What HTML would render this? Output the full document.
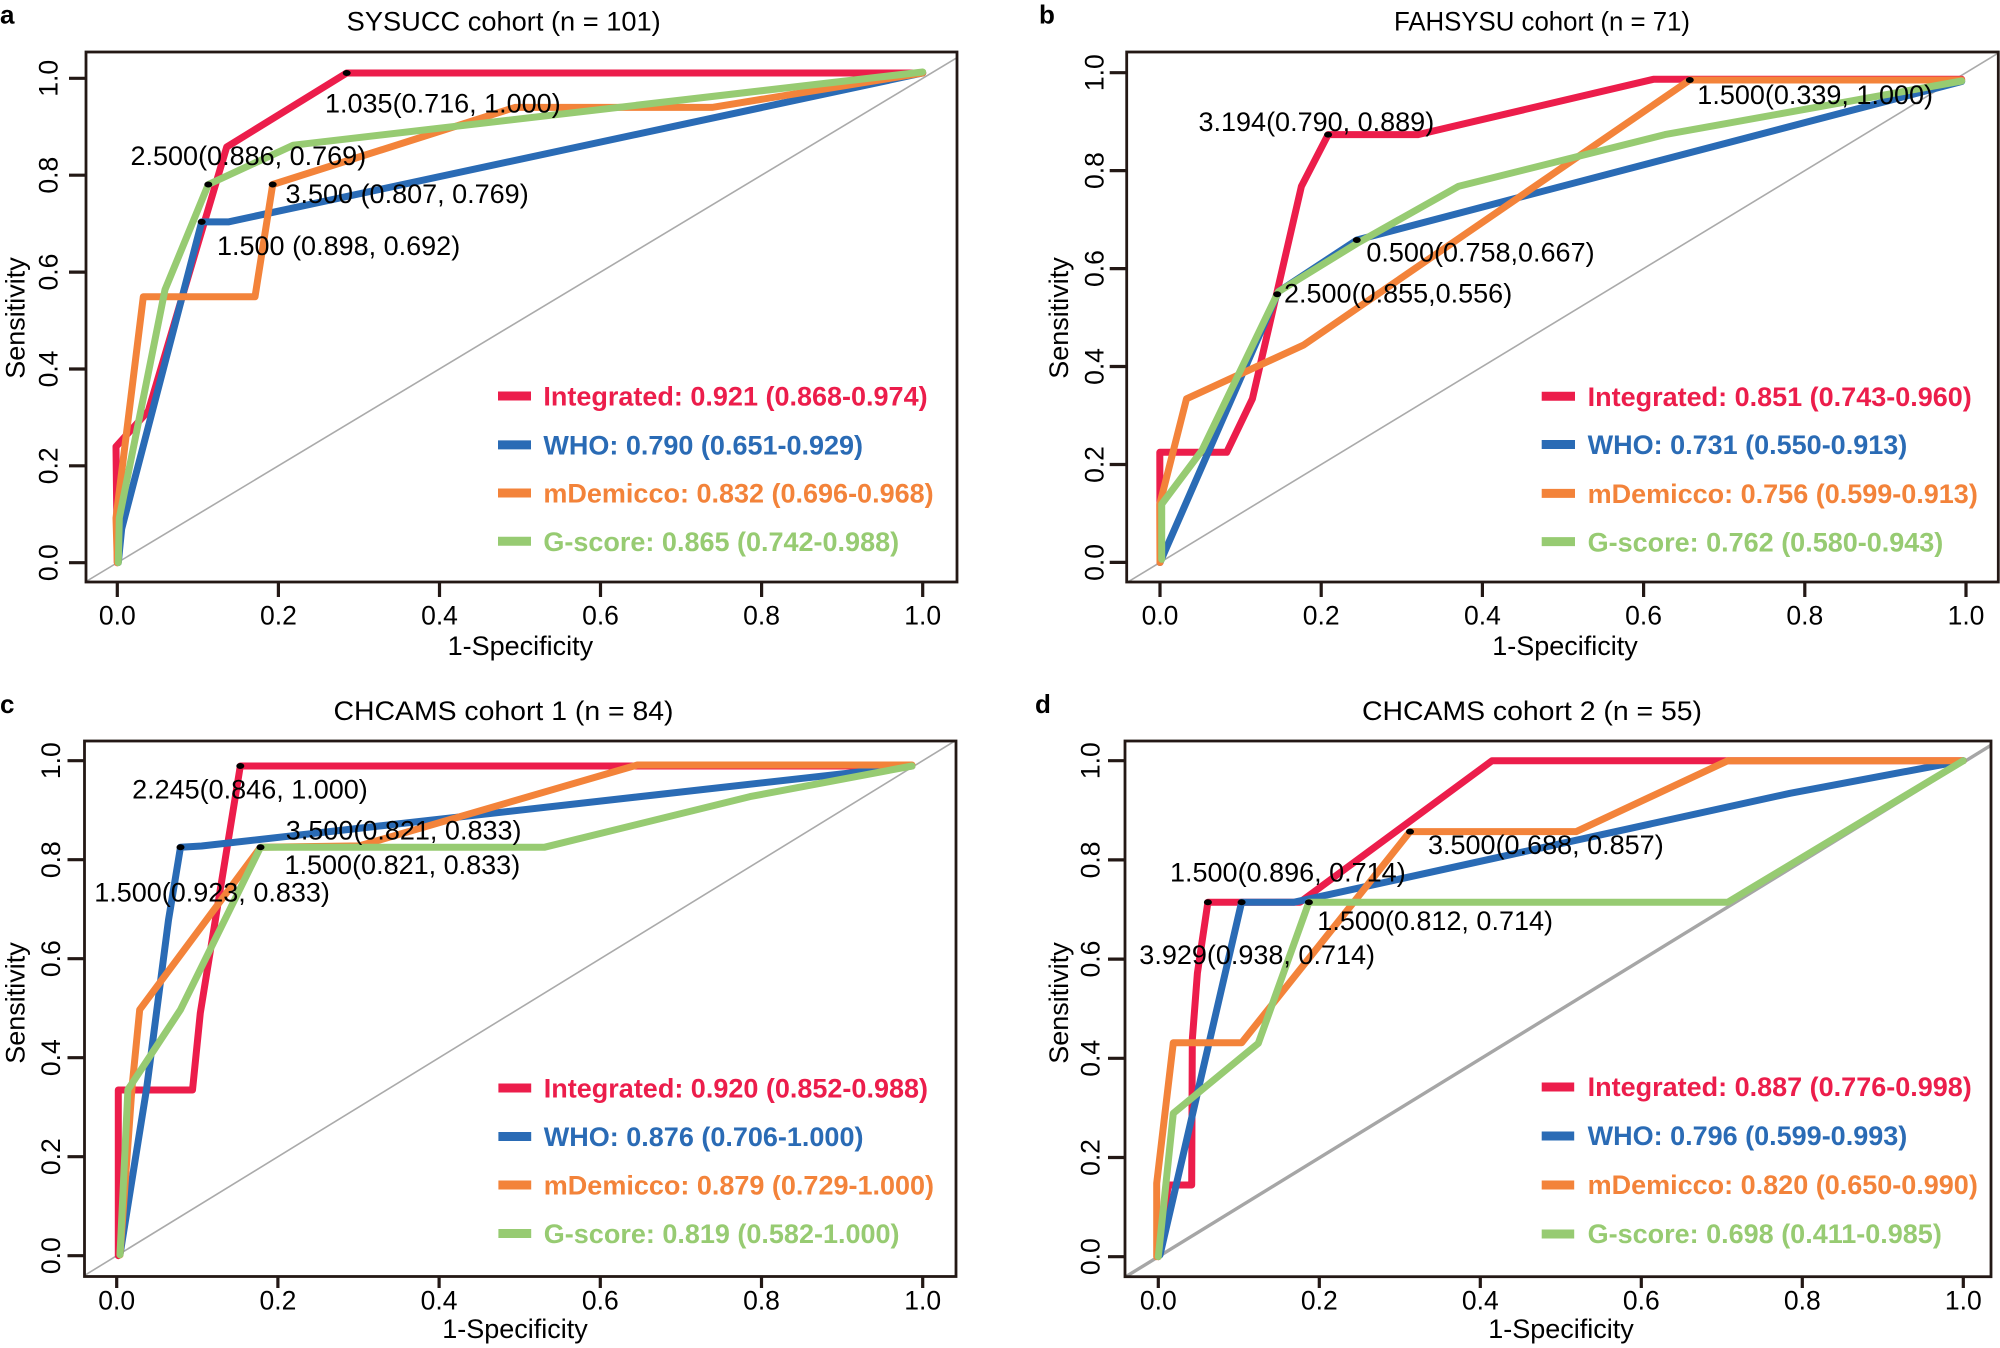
<!DOCTYPE html>
<html><head><meta charset="utf-8"><style>
html,body{margin:0;padding:0;background:#fff;}
svg{display:block;}
text{font-family:"Liberation Sans",Arial,sans-serif;fill:#000;}
.t{font-size:27px;}
.tk{font-size:26.5px;}
.lg{font-size:27px;font-weight:bold;}
.pl{font-size:26px;font-weight:bold;}
.c{fill:none;stroke-width:7;stroke-linejoin:round;stroke-linecap:round;}
.r{stroke:#EC1D4B;} .b{stroke:#2A6BB5;} .o{stroke:#F3833A;} .g{stroke:#97CB72;}
.box{fill:none;stroke:#231815;stroke-width:2.8;}
.tick{stroke:#231815;stroke-width:3.2;}
.lgl{stroke-width:9;}
</style></head><body>
<svg width="2000" height="1348" viewBox="0 0 2000 1348" xmlns="http://www.w3.org/2000/svg">
<rect width="2000" height="1348" fill="#fff"/>
<defs>
<clipPath id="ca"><rect x="86" y="52" width="871" height="530"/></clipPath>
<clipPath id="cb"><rect x="1126.7" y="52" width="871.6" height="530"/></clipPath>
<clipPath id="cc"><rect x="84.5" y="741" width="871.5" height="535.5"/></clipPath>
<clipPath id="cd"><rect x="1125" y="741" width="866" height="535.7"/></clipPath>
</defs>

<!-- ================= PANEL A ================= -->
<text class="pl" x="0" y="23.5">a</text>
<text class="t" x="346.7" y="30.7" textLength="314" lengthAdjust="spacingAndGlyphs">SYSUCC cohort (n = 101)</text>
<g clip-path="url(#ca)">
<line x1="36.8" y1="611.1" x2="1003.2" y2="29.9" stroke="#aaaaaa" stroke-width="1.6"/>
<polyline class="c r" points="117.3,562.7 116,446.6 148.3,411 226.7,147 346.7,73 922.7,73"/>
<polyline class="c b" points="118.3,562.6 121.7,528.7 201.7,221.9 228.3,221.9 922.7,73"/>
<polyline class="c o" points="117.3,562.7 116,518 143.3,296.8 255,296.8 272.7,184.5 515,107.4 712,107.4 922.7,73"/>
<polyline class="c g" points="118.3,562.6 119.3,518 165,289.7 208.3,184.5 293.3,145.2 922.7,72"/>
</g>
<ellipse cx="346.7" cy="73" rx="4" ry="3"/>
<ellipse cx="208.3" cy="184.5" rx="4" ry="3"/>
<ellipse cx="272.7" cy="184.5" rx="4" ry="3"/>
<ellipse cx="201.7" cy="221.9" rx="4" ry="3"/>
<text class="t" x="325" y="112.5">1.035(0.716, 1.000)</text>
<text class="t" x="130.5" y="165">2.500(0.886, 0.769)</text>
<text class="t" x="285.5" y="203">3.500 (0.807, 0.769)</text>
<text class="t" x="217" y="255">1.500 (0.898, 0.692)</text>
<line class="lgl r" x1="498" y1="396" x2="531" y2="396"/>
<line class="lgl b" x1="498" y1="444.9" x2="531" y2="444.9"/>
<line class="lgl o" x1="498" y1="493" x2="531" y2="493"/>
<line class="lgl g" x1="498" y1="541.2" x2="531" y2="541.2"/>
<text class="lg" x="543.4" y="405.7" style="fill:#EC1D4B">Integrated: 0.921 (0.868-0.974)</text>
<text class="lg" x="543.4" y="454.6" style="fill:#2A6BB5">WHO: 0.790 (0.651-0.929)</text>
<text class="lg" x="543.4" y="502.7" style="fill:#F3833A">mDemicco: 0.832 (0.696-0.968)</text>
<text class="lg" x="543.4" y="551" style="fill:#97CB72">G-score: 0.865 (0.742-0.988)</text>
<rect class="box" x="86" y="52" width="871" height="530"/>
<g class="tick">
<line x1="117.3" y1="582" x2="117.3" y2="597"/><line x1="278.4" y1="582" x2="278.4" y2="597"/><line x1="439.5" y1="582" x2="439.5" y2="597"/><line x1="600.5" y1="582" x2="600.5" y2="597"/><line x1="761.6" y1="582" x2="761.6" y2="597"/><line x1="922.7" y1="582" x2="922.7" y2="597"/>
<line x1="69" y1="562.7" x2="86" y2="562.7"/><line x1="69" y1="465.8" x2="86" y2="465.8"/><line x1="69" y1="369" x2="86" y2="369"/><line x1="69" y1="272.1" x2="86" y2="272.1"/><line x1="69" y1="175.2" x2="86" y2="175.2"/><line x1="69" y1="78.3" x2="86" y2="78.3"/>
</g>
<g class="tk" text-anchor="middle">
<text x="117.3" y="624.5">0.0</text><text x="278.4" y="624.5">0.2</text><text x="439.5" y="624.5">0.4</text><text x="600.5" y="624.5">0.6</text><text x="761.6" y="624.5">0.8</text><text x="922.7" y="624.5">1.0</text>
<text transform="translate(57.5,562.7) rotate(-90)">0.0</text><text transform="translate(57.5,465.8) rotate(-90)">0.2</text><text transform="translate(57.5,369) rotate(-90)">0.4</text><text transform="translate(57.5,272.1) rotate(-90)">0.6</text><text transform="translate(57.5,175.2) rotate(-90)">0.8</text><text transform="translate(57.5,78.3) rotate(-90)">1.0</text>
</g>
<text class="t" text-anchor="middle" x="520.4" y="655">1-Specificity</text>
<text class="t" text-anchor="middle" transform="translate(24.5,318) rotate(-90)">Sensitivity</text>

<!-- ================= PANEL B ================= -->
<text class="pl" x="1039" y="23.5">b</text>
<text class="t" x="1394" y="30.7" textLength="296" lengthAdjust="spacingAndGlyphs">FAHSYSU cohort (n = 71)</text>
<g clip-path="url(#cb)">
<line x1="1079.4" y1="611.4" x2="2046.6" y2="23.7" stroke="#aaaaaa" stroke-width="1.6"/>
<polyline class="c r" points="1160,562.5 1159.8,452.3 1226.7,452.3 1252.4,398.8 1301.4,186.4 1328.1,134.6 1418.1,134.6 1653.4,79.3 1961.7,79.3"/>
<polyline class="c b" points="1160,562.5 1278.4,291.7 1356.8,240 1961.7,81.5"/>
<polyline class="c o" points="1160,562.5 1159.8,504.1 1186.5,398.8 1303.3,345.2 1689.8,80 1961.7,80"/>
<polyline class="c g" points="1161.7,559.4 1161.7,504.1 1201.8,450.6 1278.4,291.7 1356.8,243.5 1458.3,186.4 1664.9,134.6 1961.7,81"/>
</g>
<ellipse cx="1328.1" cy="134.6" rx="4" ry="3"/>
<ellipse cx="1689.8" cy="80" rx="4" ry="3"/>
<ellipse cx="1356.8" cy="240" rx="4" ry="3"/>
<ellipse cx="1277.2" cy="294.2" rx="4" ry="3"/>
<text class="t" x="1198.5" y="131">3.194(0.790, 0.889)</text>
<text class="t" x="1697.3" y="104">1.500(0.339, 1.000)</text>
<text class="t" x="1366.4" y="261.3">0.500(0.758,0.667)</text>
<text class="t" x="1284" y="302.4">2.500(0.855,0.556)</text>
<line class="lgl r" x1="1541.7" y1="396.3" x2="1575" y2="396.3"/>
<line class="lgl b" x1="1541.7" y1="444.5" x2="1575" y2="444.5"/>
<line class="lgl o" x1="1541.7" y1="493.4" x2="1575" y2="493.4"/>
<line class="lgl g" x1="1541.7" y1="541.6" x2="1575" y2="541.6"/>
<text class="lg" x="1587.6" y="406" style="fill:#EC1D4B">Integrated: 0.851 (0.743-0.960)</text>
<text class="lg" x="1587.6" y="454.2" style="fill:#2A6BB5">WHO: 0.731 (0.550-0.913)</text>
<text class="lg" x="1587.6" y="503.1" style="fill:#F3833A">mDemicco: 0.756 (0.599-0.913)</text>
<text class="lg" x="1587.6" y="551.3" style="fill:#97CB72">G-score: 0.762 (0.580-0.943)</text>
<rect class="box" x="1126.7" y="52" width="871.6" height="530"/>
<g class="tick">
<line x1="1160" y1="582" x2="1160" y2="597"/><line x1="1321.2" y1="582" x2="1321.2" y2="597"/><line x1="1482.4" y1="582" x2="1482.4" y2="597"/><line x1="1643.6" y1="582" x2="1643.6" y2="597"/><line x1="1804.8" y1="582" x2="1804.8" y2="597"/><line x1="1966" y1="582" x2="1966" y2="597"/>
<line x1="1109.7" y1="562.4" x2="1126.7" y2="562.4"/><line x1="1109.7" y1="464.5" x2="1126.7" y2="464.5"/><line x1="1109.7" y1="366.5" x2="1126.7" y2="366.5"/><line x1="1109.7" y1="268.6" x2="1126.7" y2="268.6"/><line x1="1109.7" y1="170.6" x2="1126.7" y2="170.6"/><line x1="1109.7" y1="72.7" x2="1126.7" y2="72.7"/>
</g>
<g class="tk" text-anchor="middle">
<text x="1160" y="624.5">0.0</text><text x="1321.2" y="624.5">0.2</text><text x="1482.4" y="624.5">0.4</text><text x="1643.6" y="624.5">0.6</text><text x="1804.8" y="624.5">0.8</text><text x="1966" y="624.5">1.0</text>
<text transform="translate(1103.5,562.4) rotate(-90)">0.0</text><text transform="translate(1103.5,464.5) rotate(-90)">0.2</text><text transform="translate(1103.5,366.5) rotate(-90)">0.4</text><text transform="translate(1103.5,268.6) rotate(-90)">0.6</text><text transform="translate(1103.5,170.6) rotate(-90)">0.8</text><text transform="translate(1103.5,72.7) rotate(-90)">1.0</text>
</g>
<text class="t" text-anchor="middle" x="1565" y="655">1-Specificity</text>
<text class="t" text-anchor="middle" transform="translate(1068,318) rotate(-90)">Sensitivity</text>

<!-- ================= PANEL C ================= -->
<text class="pl" x="0" y="713">c</text>
<text class="t" x="333.5" y="720" textLength="340" lengthAdjust="spacingAndGlyphs">CHCAMS cohort 1 (n = 84)</text>
<g clip-path="url(#cc)">
<line x1="36.1" y1="1305.2" x2="1003.3" y2="711.2" stroke="#aaaaaa" stroke-width="1.6"/>
<polyline class="c r" points="118.3,1255.7 118.3,1090 192.5,1090 200.3,1013 240.3,766 912,766"/>
<polyline class="c b" points="120,1254.7 146.7,1088 168.5,920 180.5,847.2 201.6,846 912,766"/>
<polyline class="c o" points="120,1255 132.1,1086.3 139.7,1009.7 260.5,847.2 359.4,845.9 637.3,765 912,765"/>
<polyline class="c g" points="120,1254.7 127.9,1089.7 180.5,1009.7 260.5,847.2 544.7,847.2 750,796.6 912,766"/>
</g>
<ellipse cx="240.3" cy="766" rx="4" ry="3"/>
<ellipse cx="180.5" cy="847.2" rx="4" ry="3"/>
<ellipse cx="260.5" cy="847.2" rx="4" ry="3"/>
<text class="t" x="132.1" y="798.3">2.245(0.846, 1.000)</text>
<text class="t" x="285.8" y="839.3">3.500(0.821, 0.833)</text>
<text class="t" x="284.5" y="873.9">1.500(0.821, 0.833)</text>
<text class="t" x="94.2" y="901.5">1.500(0.923, 0.833)</text>
<line class="lgl r" x1="498.4" y1="1088" x2="531.2" y2="1088"/>
<line class="lgl b" x1="498.4" y1="1136.5" x2="531.2" y2="1136.5"/>
<line class="lgl o" x1="498.4" y1="1185" x2="531.2" y2="1185"/>
<line class="lgl g" x1="498.4" y1="1233.5" x2="531.2" y2="1233.5"/>
<text class="lg" x="543.8" y="1097.7" style="fill:#EC1D4B">Integrated: 0.920 (0.852-0.988)</text>
<text class="lg" x="543.8" y="1146.2" style="fill:#2A6BB5">WHO: 0.876 (0.706-1.000)</text>
<text class="lg" x="543.8" y="1194.7" style="fill:#F3833A">mDemicco: 0.879 (0.729-1.000)</text>
<text class="lg" x="543.8" y="1243.2" style="fill:#97CB72">G-score: 0.819 (0.582-1.000)</text>
<rect class="box" x="84.5" y="741" width="871.5" height="535.5"/>
<g class="tick">
<line x1="116.7" y1="1276.5" x2="116.7" y2="1288"/><line x1="277.9" y1="1276.5" x2="277.9" y2="1288"/><line x1="439.1" y1="1276.5" x2="439.1" y2="1288"/><line x1="600.3" y1="1276.5" x2="600.3" y2="1288"/><line x1="761.5" y1="1276.5" x2="761.5" y2="1288"/><line x1="922.7" y1="1276.5" x2="922.7" y2="1288"/>
<line x1="67.5" y1="1255.7" x2="84.5" y2="1255.7"/><line x1="67.5" y1="1156.7" x2="84.5" y2="1156.7"/><line x1="67.5" y1="1057.7" x2="84.5" y2="1057.7"/><line x1="67.5" y1="958.7" x2="84.5" y2="958.7"/><line x1="67.5" y1="859.7" x2="84.5" y2="859.7"/><line x1="67.5" y1="760.7" x2="84.5" y2="760.7"/>
</g>
<g class="tk" text-anchor="middle">
<text x="116.7" y="1309.5">0.0</text><text x="277.9" y="1309.5">0.2</text><text x="439.1" y="1309.5">0.4</text><text x="600.3" y="1309.5">0.6</text><text x="761.5" y="1309.5">0.8</text><text x="922.7" y="1309.5">1.0</text>
<text transform="translate(60,1255.7) rotate(-90)">0.0</text><text transform="translate(60,1156.7) rotate(-90)">0.2</text><text transform="translate(60,1057.7) rotate(-90)">0.4</text><text transform="translate(60,958.7) rotate(-90)">0.6</text><text transform="translate(60,859.7) rotate(-90)">0.8</text><text transform="translate(60,760.7) rotate(-90)">1.0</text>
</g>
<text class="t" text-anchor="middle" x="515" y="1338">1-Specificity</text>
<text class="t" text-anchor="middle" transform="translate(24.5,1003) rotate(-90)">Sensitivity</text>

<!-- ================= PANEL D ================= -->
<text class="pl" x="1035" y="713">d</text>
<text class="t" x="1362" y="720" textLength="340" lengthAdjust="spacingAndGlyphs">CHCAMS cohort 2 (n = 55)</text>
<g clip-path="url(#cd)">
<line x1="1077.7" y1="1306.2" x2="2044.9" y2="712.2" stroke="#a6a6a6" stroke-width="3.4"/>
<polyline class="c r" points="1158.3,1256.7 1168.3,1185 1191.7,1185 1192.3,1039.7 1197.4,973.1 1207.9,902.2 1300,902.2 1492.1,760.7 1963.3,760.7"/>
<polyline class="c b" points="1160,1255 1241.6,902.2 1294.2,902.2 1790,793.3 1963.3,760.7"/>
<polyline class="c o" points="1156.7,1256.7 1156.7,1183.3 1173.3,1042.7 1241.7,1042.7 1410,831.6 1576.3,831.6 1727.8,760.7 1963.3,760.7"/>
<polyline class="c g" points="1158.3,1256.7 1173.3,1113.3 1258.3,1043.3 1308.9,902.2 1727.8,902.2 1963.3,760.7"/>
</g>
<ellipse cx="1207.9" cy="902.2" rx="4" ry="3"/>
<ellipse cx="1241.6" cy="902.2" rx="4" ry="3"/>
<ellipse cx="1308.9" cy="902.2" rx="4" ry="3"/>
<ellipse cx="1410" cy="831.6" rx="4" ry="3"/>
<text class="t" x="1428" y="854.2">3.500(0.688, 0.857)</text>
<text class="t" x="1170" y="881.5">1.500(0.896, 0.714)</text>
<text class="t" x="1317.3" y="929.8">1.500(0.812, 0.714)</text>
<text class="t" x="1139.3" y="963.8">3.929(0.938, 0.714)</text>
<line class="lgl r" x1="1541.7" y1="1087" x2="1574.2" y2="1087"/>
<line class="lgl b" x1="1541.7" y1="1136" x2="1574.2" y2="1136"/>
<line class="lgl o" x1="1541.7" y1="1185" x2="1574.2" y2="1185"/>
<line class="lgl g" x1="1541.7" y1="1234" x2="1574.2" y2="1234"/>
<text class="lg" x="1587.6" y="1096" style="fill:#EC1D4B">Integrated: 0.887 (0.776-0.998)</text>
<text class="lg" x="1587.6" y="1145" style="fill:#2A6BB5">WHO: 0.796 (0.599-0.993)</text>
<text class="lg" x="1587.6" y="1194" style="fill:#F3833A">mDemicco: 0.820 (0.650-0.990)</text>
<text class="lg" x="1587.6" y="1243" style="fill:#97CB72">G-score: 0.698 (0.411-0.985)</text>
<rect class="box" x="1125" y="741" width="866" height="535.7"/>
<g class="tick">
<line x1="1158.3" y1="1276.5" x2="1158.3" y2="1288"/><line x1="1319.3" y1="1276.5" x2="1319.3" y2="1288"/><line x1="1480.3" y1="1276.5" x2="1480.3" y2="1288"/><line x1="1641.3" y1="1276.5" x2="1641.3" y2="1288"/><line x1="1802.3" y1="1276.5" x2="1802.3" y2="1288"/><line x1="1963.3" y1="1276.5" x2="1963.3" y2="1288"/>
<line x1="1108" y1="1256.7" x2="1125" y2="1256.7"/><line x1="1108" y1="1157.5" x2="1125" y2="1157.5"/><line x1="1108" y1="1058.3" x2="1125" y2="1058.3"/><line x1="1108" y1="959.1" x2="1125" y2="959.1"/><line x1="1108" y1="859.9" x2="1125" y2="859.9"/><line x1="1108" y1="760.7" x2="1125" y2="760.7"/>
</g>
<g class="tk" text-anchor="middle">
<text x="1158.3" y="1309.5">0.0</text><text x="1319.3" y="1309.5">0.2</text><text x="1480.3" y="1309.5">0.4</text><text x="1641.3" y="1309.5">0.6</text><text x="1802.3" y="1309.5">0.8</text><text x="1963.3" y="1309.5">1.0</text>
<text transform="translate(1099.5,1256.7) rotate(-90)">0.0</text><text transform="translate(1099.5,1157.5) rotate(-90)">0.2</text><text transform="translate(1099.5,1058.3) rotate(-90)">0.4</text><text transform="translate(1099.5,959.1) rotate(-90)">0.6</text><text transform="translate(1099.5,859.9) rotate(-90)">0.8</text><text transform="translate(1099.5,760.7) rotate(-90)">1.0</text>
</g>
<text class="t" text-anchor="middle" x="1561" y="1338">1-Specificity</text>
<text class="t" text-anchor="middle" transform="translate(1068,1003) rotate(-90)">Sensitivity</text>
</svg>
</body></html>
